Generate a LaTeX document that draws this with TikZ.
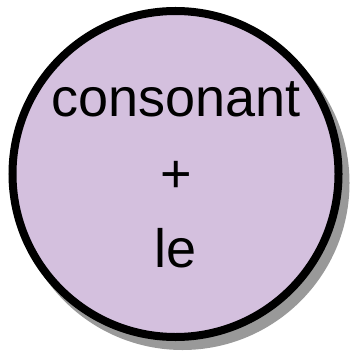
\documentclass[tikz,border=0pt]{standalone}
\usepackage{fontspec}
\setmainfont{Liberation Sans}
\definecolor{lav}{RGB}{212,192,222}
\definecolor{shadowgray}{RGB}{153,153,153}
\begin{document}
\begin{tikzpicture}[x=1pt,y=1pt,
  ball/.style={circle,minimum size=326pt,inner sep=0pt,line width=8pt},
  lbl/.style={anchor=base,font=\fontsize{54}{60}\selectfont,inner sep=0pt}]
\useasboundingbox (0,0) rectangle (352,351);
\node[ball,fill=shadowgray,draw=shadowgray] (shadow) at (182.5,168) {};
\node[ball,fill=lav,draw=black] (c) at (175.5,177) {};
\node[lbl] (t1) at (176,234) {consonant};
\node[lbl] (t2) at (176,159) {+};
\node[lbl] (t3) at (176,84) {le};
\end{tikzpicture}
\end{document}
